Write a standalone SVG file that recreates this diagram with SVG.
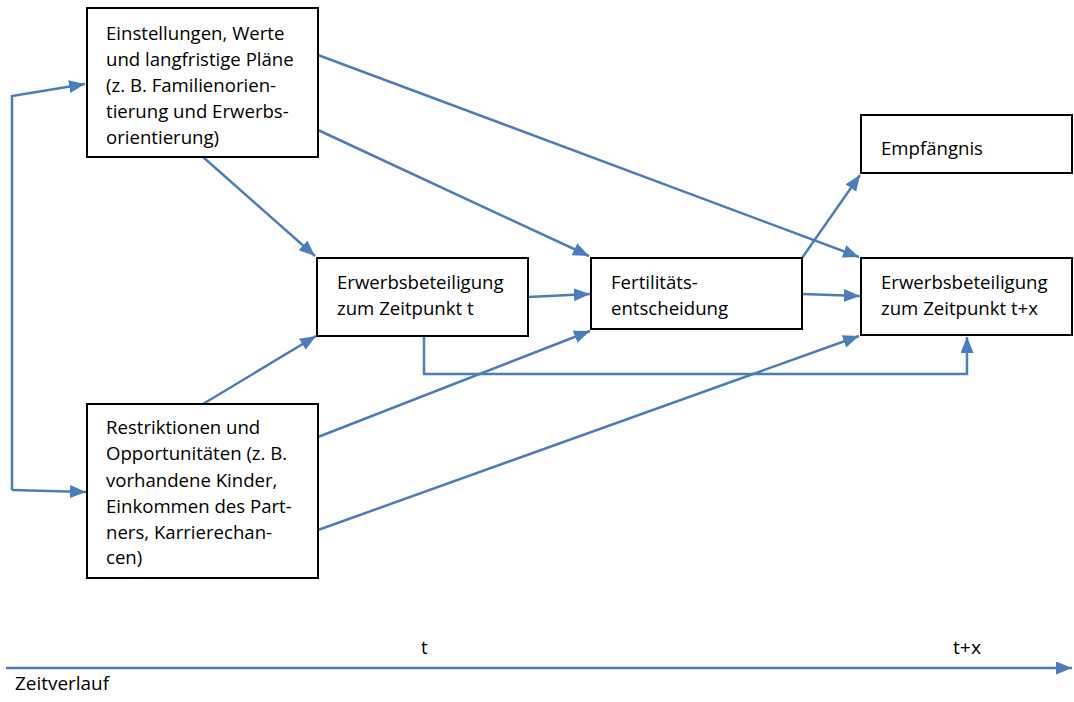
<svg xmlns="http://www.w3.org/2000/svg" width="1074" height="702" viewBox="0 0 1074 702">
<style>
.box{fill:#fff;stroke:#000;stroke-width:2}
.t{font-family:"Open Sans","Noto Sans",sans-serif;font-size:18.6px;fill:#000}
.c{fill:none;stroke:#4a7ebb;stroke-width:2.5}
</style>
<defs>
<marker id="a" markerUnits="userSpaceOnUse" markerWidth="18" markerHeight="14" refX="16" refY="6.5" orient="auto">
<path d="M0,0 L16,6.5 L0,13 z" fill="#4a7ebb"/>
</marker>
</defs>
<rect width="1074" height="702" fill="#fff"/>
<g id="connectors">
<polyline class="c" points="12,490 12,96 85,84" marker-end="url(#a)"/>
<polyline class="c" points="12,490 86,492" marker-end="url(#a)"/>
<line class="c" x1="203" y1="157" x2="315" y2="256" marker-end="url(#a)"/>
<line class="c" x1="318" y1="130" x2="589" y2="256" marker-end="url(#a)"/>
<line class="c" x1="318" y1="55" x2="859" y2="257" marker-end="url(#a)"/>
<line class="c" x1="203" y1="404" x2="316" y2="336" marker-end="url(#a)"/>
<line class="c" x1="318" y1="437" x2="590" y2="331" marker-end="url(#a)"/>
<line class="c" x1="318" y1="530" x2="859" y2="336" marker-end="url(#a)"/>
<line class="c" x1="528" y1="297" x2="590" y2="294" marker-end="url(#a)"/>
<line class="c" x1="802" y1="294" x2="860" y2="296" marker-end="url(#a)"/>
<line class="c" x1="802" y1="258" x2="860" y2="175" marker-end="url(#a)"/>
<polyline class="c" points="424,336 424,374 967,374 967,337" marker-end="url(#a)"/>
<line class="c" x1="6" y1="668" x2="1072" y2="668" stroke-width="3.5" marker-end="url(#a)"/>
</g>
<g id="n1">
<rect class="box" x="87" y="8" width="231" height="149"/>
<text class="t" x="106" y="40">Einstellungen, Werte</text>
<text class="t" x="106" y="66">und langfristige Pläne</text>
<text class="t" x="106" y="92">(z. B. Familienorien-</text>
<text class="t" x="106" y="118">tierung und Erwerbs-</text>
<text class="t" x="106" y="144">orientierung)</text>
</g>
<g id="n2">
<rect class="box" x="87" y="404" width="231" height="174"/>
<text class="t" x="106" y="434">Restriktionen und</text>
<text class="t" x="106" y="460">Opportunitäten (z. B.</text>
<text class="t" x="106" y="487">vorhandene Kinder,</text>
<text class="t" x="106" y="513">Einkommen des Part-</text>
<text class="t" x="106" y="539">ners, Karrierechan-</text>
<text class="t" x="106" y="564">cen)</text>
</g>
<g id="n3">
<rect class="box" x="317" y="258" width="211" height="78"/>
<text class="t" x="337" y="289">Erwerbsbeteiligung</text>
<text class="t" x="337" y="315">zum Zeitpunkt t</text>
</g>
<g id="n4">
<rect class="box" x="591" y="258" width="211" height="71"/>
<text class="t" x="611" y="289">Fertilitäts-</text>
<text class="t" x="611" y="315">entscheidung</text>
</g>
<g id="n5">
<rect class="box" x="861" y="115" width="211" height="58"/>
<text class="t" x="881" y="155">Empfängnis</text>
</g>
<g id="n6">
<rect class="box" x="861" y="258" width="211" height="77"/>
<text class="t" x="881" y="289">Erwerbsbeteiligung</text>
<text class="t" x="881" y="315">zum Zeitpunkt t+x</text>
</g>
<g id="axis-labels">
<text class="t" x="421" y="654">t</text>
<text class="t" x="953" y="654" textLength="28" lengthAdjust="spacingAndGlyphs">t+x</text>
<text class="t" x="15" y="690" textLength="94" lengthAdjust="spacingAndGlyphs">Zeitverlauf</text>
</g>
</svg>
